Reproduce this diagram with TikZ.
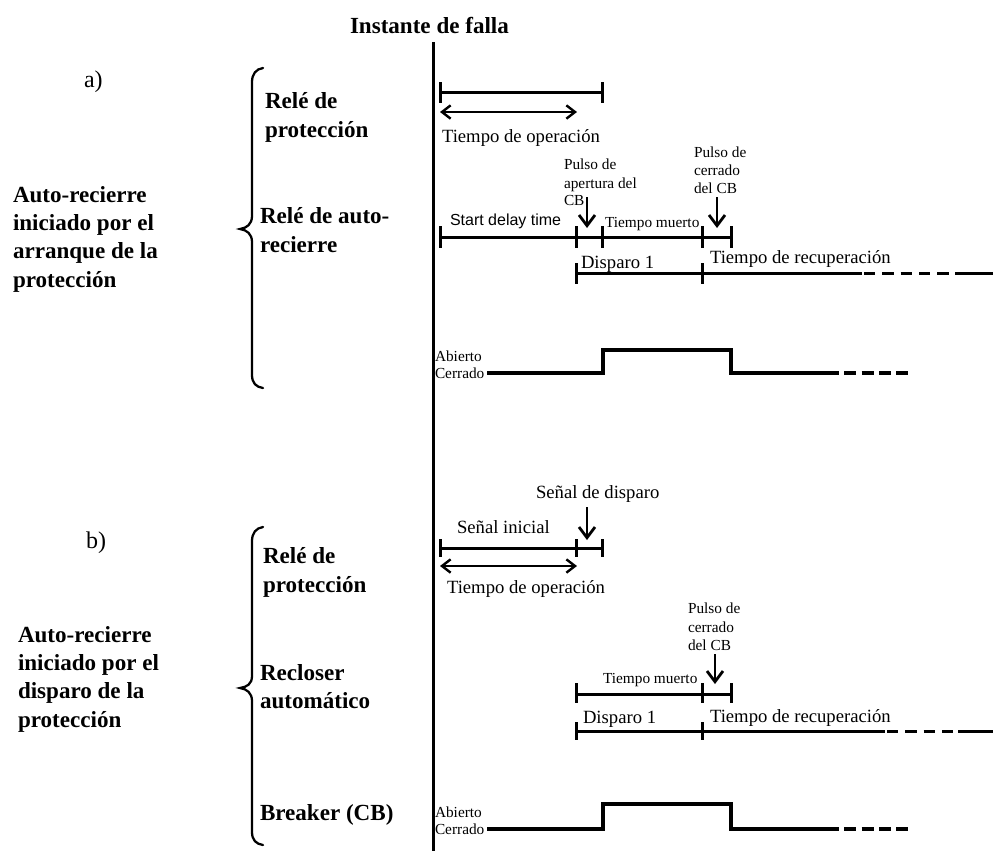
\documentclass[tikz,border=0pt]{standalone}
\usepackage{fontspec}
\setmainfont{Liberation Serif}
\newfontfamily\arialfont{Liberation Sans}
\usetikzlibrary{arrows.meta}
\begin{document}
\begin{tikzpicture}[x=0.75pt,y=-0.75pt,
  lbl/.style={anchor=base west,inner sep=0pt,outer sep=0pt},
  bigb/.style={lbl,font=\fontsize{17.3}{20}\selectfont\bfseries},
  med/.style={lbl,font=\fontsize{14}{17}\selectfont},
  sml/.style={lbl,font=\fontsize{11.5}{14}\selectfont},
  sans/.style={lbl,font=\fontsize{12}{14}\selectfont\arialfont},
  secl/.style={lbl,font=\fontsize{18}{21}\selectfont},
  bar/.style={line width=2.25pt},
  wave/.style={line width=2.6pt},
  dashbar/.style={line width=2.25pt,dash pattern=on 8.5pt off 5.25pt},
  dashwave/.style={line width=2.8pt,dash pattern=on 9pt off 4pt},
  downarr/.style={line width=2.1pt,-{Straight Barb[length=8pt,width=12pt]}},
  dblarr/.style={line width=1.8pt,{Straight Barb[length=6.5pt,width=10pt]}-{Straight Barb[length=6.5pt,width=10pt]}},
  brace/.style={line width=1.7pt,line cap=round}
]
\useasboundingbox (0,0) rectangle (993,851);

% fault instant
\node[bigb] (title) at (350,33) {Instante de falla};
\coordinate (ftop) at (433,42);
\coordinate (fbot) at (433,851);
\draw[line width=2.25pt] (ftop) -- (fbot);

% ================= a) =================
\node[secl] (la) at (84,87) {a)};
\node[bigb] (a1) at (13,202) {Auto-recierre};
\node[bigb] (a2) at (13,230) {iniciado por el};
\node[bigb] (a3) at (13,258) {arranque de la};
\node[bigb] (a4) at (13,287) {protección};
\draw[brace] (263,68) .. controls (256,69) and (252,74) .. (252,82) -- (252,216)
  .. controls (252,224) and (247,228) .. (240,229)
  .. controls (247,230) and (252,234) .. (252,242) -- (252,375)
  .. controls (252,383) and (256,387) .. (263,388);
\node[bigb] (ra1) at (265,108) {Relé de};
\node[bigb] (ra2) at (265,137) {protección};
\node[bigb] (rr1) at (260,223) {Relé de auto-};
\node[bigb] (rr2) at (260,252) {recierre};

% protection relay a
\draw[bar] (440,92) -- (602,92);
\draw[bar] (440,82) -- (440,103);
\draw[bar] (602,82) -- (602,103);
\coordinate (opAl) at (440,112);
\coordinate (opAr) at (577,112);
\draw[dblarr] (opAl) -- (opAr);
\node[med] (opA) at (442,142) {Tiempo de operación};

% auto-reclose relay a
\node[sml] (pa1) at (564,169) {Pulso de};
\node[sml] (pa2) at (564,188) {apertura del};
\node[sml] (pa3) at (564,205) {CB};
\node[sml] (pc1) at (694,157) {Pulso de};
\node[sml] (pc2) at (694,175) {cerrado};
\node[sml] (pc3) at (694,193) {del CB};
\node[sans] (sdt) at (450,225) {Start delay time};
\node[sml] (tmA) at (605,227) {Tiempo muerto};
\coordinate (arA1s) at (587,197);
\coordinate (arA1e) at (587,228);
\draw[downarr] (arA1s) -- (arA1e);
\coordinate (arA2s) at (717,197);
\coordinate (arA2e) at (717,228);
\draw[downarr] (arA2s) -- (arA2e);
\draw[bar] (440,237) -- (731,237);
\foreach \xx in {440,576,602,702,731} \draw[bar] (\xx,226) -- (\xx,248);

\node[med] (dA) at (581,268) {Disparo 1};
\node[med] (trA) at (710,263) {Tiempo de recuperación};
\draw[bar] (576,273) -- (862,273);
\draw[dashbar] (864,273) -- (955,273);
\draw[bar] (955,273) -- (993,273);
\foreach \xx in {576,702} \draw[bar] (\xx,263) -- (\xx,284);

% breaker a
\node[sml] (abA) at (435,361) {Abierto};
\node[sml] (ceA) at (435,378) {Cerrado};
\draw[wave] (487,373) -- (603,373) -- (603,350) -- (731,350) -- (731,373) -- (827,373);
\draw[dashwave] (827,373) -- (912,373);

% ================= b) =================
\node[secl] (lb) at (86,548) {b)};
\node[bigb] (b1) at (18,642) {Auto-recierre};
\node[bigb] (b2) at (18,670) {iniciado por el};
\node[bigb] (b3) at (18,698) {disparo de la};
\node[bigb] (b4) at (18,727) {protección};
\draw[brace] (263,527) .. controls (256,528) and (252,533) .. (252,541) -- (252,676)
  .. controls (252,684) and (247,687) .. (240,688)
  .. controls (247,689) and (252,693) .. (252,701) -- (252,832)
  .. controls (252,840) and (256,844) .. (263,845);
\node[bigb] (rb1) at (263,563) {Relé de};
\node[bigb] (rb2) at (263,592) {protección};
\node[bigb] (rc1) at (260,680) {Recloser};
\node[bigb] (rc2) at (260,708) {automático};
\node[bigb] (bk) at (260,820) {Breaker (CB)};

% protection relay b
\node[med] (sd) at (536,498) {Señal de disparo};
\node[med] (si) at (457,533) {Señal inicial};
\coordinate (arB1s) at (587,507);
\coordinate (arB1e) at (587,540);
\draw[downarr] (arB1s) -- (arB1e);
\draw[bar] (440,548) -- (602,548);
\foreach \xx in {440,576,602} \draw[bar] (\xx,539) -- (\xx,557);
\coordinate (opBl) at (440,566);
\coordinate (opBr) at (577,566);
\draw[dblarr] (opBl) -- (opBr);
\node[med] (opB) at (447,593) {Tiempo de operación};

% recloser b
\node[sml] (pcb1) at (688,613) {Pulso de};
\node[sml] (pcb2) at (688,632) {cerrado};
\node[sml] (pcb3) at (688,650) {del CB};
\coordinate (arB2s) at (715,654);
\coordinate (arB2e) at (715,684);
\draw[downarr] (arB2s) -- (arB2e);
\node[sml] (tmB) at (603,683) {Tiempo muerto};
\draw[bar] (576,694) -- (731,694);
\foreach \xx in {576,702,731} \draw[bar] (\xx,683) -- (\xx,703);

\node[med] (dB) at (583,723) {Disparo 1};
\node[med] (trB) at (710,722) {Tiempo de recuperación};
\draw[bar] (576,731) -- (885,731);
\draw[dashbar] (887,731) -- (958,731);
\draw[bar] (958,731) -- (993,731);
\foreach \xx in {576,702} \draw[bar] (\xx,722) -- (\xx,740);

% breaker b
\node[sml] (abB) at (435,817) {Abierto};
\node[sml] (ceB) at (435,834) {Cerrado};
\draw[wave] (487,829) -- (603,829) -- (603,804) -- (731,804) -- (731,829) -- (827,829);
\draw[dashwave] (827,829) -- (912,829);
\end{tikzpicture}
\end{document}
